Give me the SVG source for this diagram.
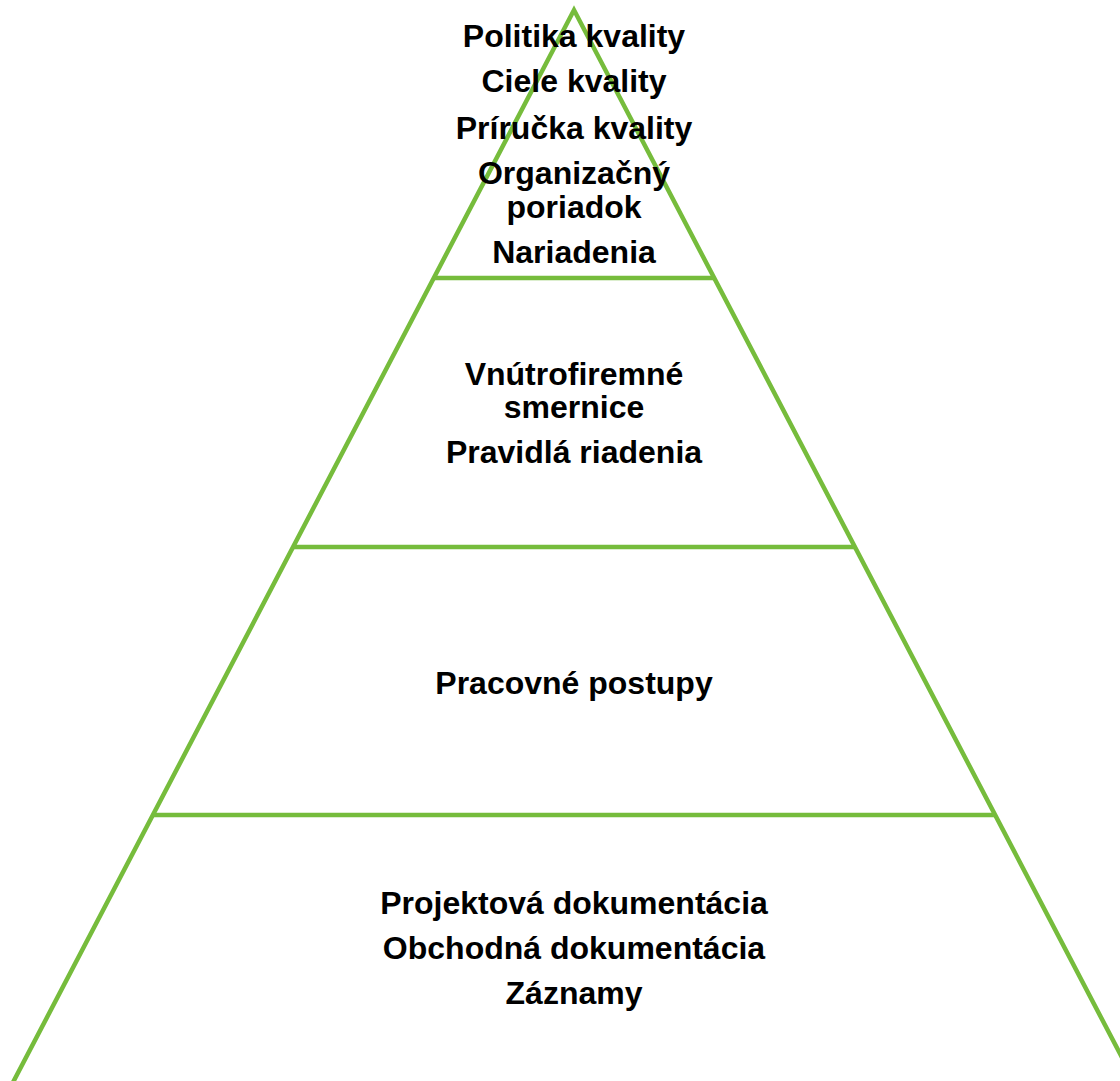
<svg xmlns="http://www.w3.org/2000/svg" width="1120" height="1081" viewBox="0 0 1120 1081">
<style>
.ln{stroke:#76BC3C;stroke-width:4.5;fill:none;stroke-linejoin:miter;stroke-miterlimit:20}
.t{font-family:"Liberation Sans",Arial,sans-serif;font-weight:bold;font-size:32px;fill:#000;text-anchor:middle}
</style>
<rect width="1120" height="1081" fill="#fff"/>
<g id="outline">
<polyline class="ln" points="9,1090 574,10 1139,1090"/>
<line class="ln" x1="433.8" y1="278" x2="714.2" y2="278"/>
<line class="ln" x1="293.2" y1="547" x2="854.8" y2="547"/>
<line class="ln" x1="152.9" y1="815" x2="995.1" y2="815"/>
</g>
<g id="tier1">
<text class="t" x="574" y="47">Politika kvality</text>
<text class="t" x="574" y="92">Ciele kvality</text>
<text class="t" x="574" y="139">Príručka kvality</text>
<text class="t" x="574" y="184">Organizačný</text>
<text class="t" x="574" y="218">poriadok</text>
<text class="t" x="574" y="263">Nariadenia</text>
</g>
<g id="tier2">
<text class="t" x="574" y="385">Vnútrofiremné</text>
<text class="t" x="574" y="418">smernice</text>
<text class="t" x="574" y="463">Pravidlá riadenia</text>
</g>
<g id="tier3">
<text class="t" x="574" y="694">Pracovné postupy</text>
</g>
<g id="tier4">
<text class="t" x="574" y="914">Projektová dokumentácia</text>
<text class="t" x="574" y="959">Obchodná dokumentácia</text>
<text class="t" x="574" y="1004">Záznamy</text>
</g>
</svg>
